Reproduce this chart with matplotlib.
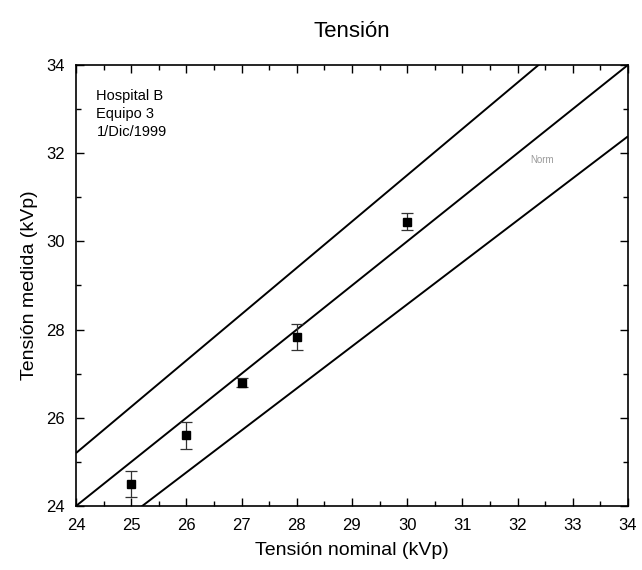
import matplotlib
matplotlib.use("Agg")
import matplotlib.pyplot as plt
from matplotlib.ticker import MultipleLocator

plt.rcParams['font.family'] = ['Liberation Sans', 'DejaVu Sans']

# Measured tube voltage against nominal setting
nominal_kvp = [25, 26, 27, 28, 30]
measured_kvp = [24.5, 25.6, 26.8, 27.83, 30.45]
measured_err = [0.3, 0.3, 0.1, 0.3, 0.2]

# Reference lines: identity and +/-5 % tolerance band
ref_x = [24, 34]
ref_upper = [25.2, 35.7]
ref_center = [24, 34]
ref_lower = [22.857, 32.381]

info_lines = ["Hospital B", "Equipo 3", "1/Dic/1999"]

fig = plt.figure(figsize=(6.42, 5.70), dpi=100)
ax = fig.add_axes([0.1184, 0.1123, 0.8596, 0.7737])

for yv in (ref_upper, ref_center, ref_lower):
    ax.plot(ref_x, yv, color="black", lw=1.4, solid_capstyle="butt")

ax.errorbar(nominal_kvp, measured_kvp, yerr=measured_err, fmt="s",
            color="black", ms=5.5, ecolor="#333333", elinewidth=0.9,
            capsize=4, capthick=0.9)

ax.text(0.037, 0.945, "\n".join(info_lines), transform=ax.transAxes,
        ha="left", va="top", fontsize=10.5, linespacing=1.35)
ax.text(32.45, 31.85, "Norm", fontsize=7, color="#9a9a9a", ha="center",
        va="center")

ax.set_xlim(24, 34)
ax.set_ylim(24, 34)
ax.xaxis.set_major_locator(MultipleLocator(1))
ax.xaxis.set_minor_locator(MultipleLocator(0.5))
ax.yaxis.set_major_locator(MultipleLocator(2))
ax.yaxis.set_minor_locator(MultipleLocator(1))
ax.tick_params(which="both", direction="in", top=True, right=True,
               width=1.0, labelsize=12)
ax.tick_params(axis="x", which="both", pad=9)
ax.tick_params(axis="y", which="both", pad=8)
ax.tick_params(which="major", length=6)
ax.tick_params(which="minor", length=3.5)
for s in ax.spines.values():
    s.set_linewidth(1.2)

ax.set_title("Tensión", fontsize=16, pad=20)
ax.set_xlabel("Tensión nominal (kVp)", fontsize=14, labelpad=6)
ax.set_ylabel("Tensión medida (kVp)", fontsize=14, labelpad=6)

fig.savefig("out.png", dpi=100)
